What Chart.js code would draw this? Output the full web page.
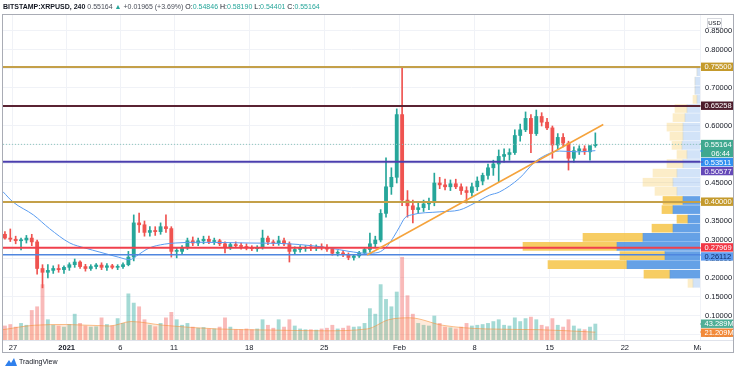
<!DOCTYPE html>
<html>
<head>
<meta charset="utf-8">
<script src="https://cdn.jsdelivr.net/npm/chart.js@4.4.1/dist/chart.umd.min.js"></script>
<style>
  html, body { margin: 0; padding: 0; background: #fff; }
  #wrap { position: relative; width: 736px; height: 368px; overflow: hidden;
          font-family: "Liberation Sans", Arial, sans-serif; }
  #chart { position: absolute; left: 0; top: 0; }
  #title { position: absolute; left: 3px; top: 2px; font-size: 7px; line-height: 9px;
           white-space: nowrap; color: #131722; }
  #title b { font-weight: bold; }
  #title .g { color: #26a69a; }
  #title .d { color: #4a4e59; }
  #footer { position: absolute; left: 5px; top: 357px; font-size: 7px; line-height: 10px;
            color: #131722; white-space: nowrap; }
  #footer svg { vertical-align: middle; margin-right: 2px; }
</style>
</head>
<body>
<div id="wrap">
  <canvas id="chart" width="736" height="368"></canvas>
  <div id="title"><b>BITSTAMP:XRPUSD, 240</b> <span class="d">0.55164</span> <span class="g">&#9650;</span> <span class="d">+0.01965 (+3.69%)</span> O:<span class="g">0.54846</span> H:<span class="g">0.58190</span> L:<span class="g">0.54401</span> C:<span class="g">0.55164</span></div>
  <div id="footer"><svg width="12" height="8" viewBox="0 0 12 8"><path d="M0 8 L4 2 L6 5 L9 0 L12 8 Z" fill="#2f80ed"/></svg>TradingView</div>
</div>
<script>
// XRPUSD 4h chart, aggregated here to 12h candles, Dec 26 2020 -> Feb 19 2021

// ---- time axis (days since Dec 26 2020, 00:00)
const X_MIN = 0.07, X_MAX = 65.0;
const CANDLE_DAYS = 0.5;
const tickDays   = [1, 6, 11, 16, 23, 30, 37, 44, 51, 58, 65];
const tickLabels = ['27', '2021', '6', '11', '18', '25', 'Feb', '8', '15', '22', 'Mar'];

// ---- price axis
const Y_MIN = 0.0368, Y_MAX = 0.8921;
const priceTicks = [0.05, 0.10, 0.15, 0.20, 0.25, 0.30, 0.35, 0.40, 0.45, 0.50,
                    0.55, 0.60, 0.65, 0.70, 0.75, 0.80, 0.85];

// ---- candles (12h)
const opens = [
  0.315, 0.305, 0.302, 0.298, 0.300, 0.305, 0.295, 0.225, 0.215, 0.220,
  0.225, 0.222, 0.228, 0.235, 0.242, 0.230, 0.225, 0.230, 0.234, 0.228,
  0.232, 0.228, 0.230, 0.235, 0.255, 0.345, 0.340, 0.320, 0.325, 0.322,
  0.335, 0.330, 0.270, 0.270, 0.280, 0.298, 0.292, 0.298, 0.302, 0.296,
  0.298, 0.290, 0.282, 0.288, 0.285, 0.283, 0.279, 0.277, 0.280, 0.305,
  0.295, 0.292, 0.298, 0.290, 0.270, 0.275, 0.278, 0.280, 0.279, 0.281,
  0.280, 0.276, 0.265, 0.266, 0.262, 0.254, 0.258, 0.266, 0.275, 0.290,
  0.300, 0.370, 0.440, 0.465, 0.630, 0.405, 0.390, 0.380, 0.385, 0.395,
  0.400, 0.450, 0.445, 0.440, 0.448, 0.440, 0.430, 0.425, 0.440, 0.455,
  0.470, 0.490, 0.500, 0.520, 0.525, 0.530, 0.575, 0.590, 0.620, 0.580,
  0.625, 0.610, 0.595, 0.550, 0.570, 0.555, 0.515, 0.535, 0.540, 0.532,
  0.54846
];
const highs = [
  0.322, 0.329, 0.310, 0.305, 0.312, 0.315, 0.300, 0.235, 0.235, 0.232,
  0.235, 0.232, 0.240, 0.250, 0.245, 0.236, 0.235, 0.238, 0.240, 0.238,
  0.236, 0.235, 0.240, 0.270, 0.366, 0.371, 0.350, 0.335, 0.335, 0.345,
  0.366, 0.335, 0.280, 0.285, 0.305, 0.308, 0.305, 0.310, 0.310, 0.305,
  0.302, 0.295, 0.292, 0.295, 0.292, 0.290, 0.285, 0.285, 0.326, 0.310,
  0.300, 0.310, 0.305, 0.295, 0.282, 0.285, 0.285, 0.288, 0.287, 0.290,
  0.288, 0.280, 0.272, 0.272, 0.266, 0.262, 0.270, 0.280, 0.318, 0.310,
  0.380, 0.516, 0.490, 0.645, 0.755, 0.430, 0.405, 0.400, 0.405, 0.410,
  0.476, 0.465, 0.460, 0.458, 0.460, 0.448, 0.440, 0.450, 0.466, 0.476,
  0.500, 0.510, 0.537, 0.540, 0.540, 0.590, 0.605, 0.637, 0.630, 0.642,
  0.635, 0.620, 0.600, 0.580, 0.580, 0.560, 0.545, 0.548, 0.548, 0.545,
  0.58190
];
const lows = [
  0.302, 0.296, 0.290, 0.274, 0.292, 0.285, 0.210, 0.174, 0.200, 0.212,
  0.215, 0.212, 0.220, 0.228, 0.225, 0.218, 0.220, 0.224, 0.222, 0.220,
  0.224, 0.222, 0.225, 0.232, 0.245, 0.320, 0.310, 0.310, 0.312, 0.315,
  0.320, 0.255, 0.253, 0.262, 0.275, 0.285, 0.285, 0.290, 0.290, 0.288,
  0.285, 0.266, 0.275, 0.280, 0.276, 0.274, 0.272, 0.270, 0.276, 0.288,
  0.285, 0.286, 0.285, 0.242, 0.262, 0.268, 0.270, 0.272, 0.272, 0.274,
  0.270, 0.260, 0.258, 0.256, 0.248, 0.247, 0.254, 0.262, 0.268, 0.280,
  0.295, 0.360, 0.420, 0.450, 0.390, 0.360, 0.345, 0.370, 0.375, 0.380,
  0.390, 0.435, 0.432, 0.430, 0.435, 0.420, 0.397, 0.415, 0.430, 0.445,
  0.460, 0.470, 0.453, 0.505, 0.510, 0.525, 0.560, 0.585, 0.530, 0.575,
  0.600, 0.590, 0.515, 0.540, 0.545, 0.484, 0.505, 0.525, 0.525, 0.510,
  0.54401
];
const closes = [
  0.305, 0.302, 0.298, 0.300, 0.305, 0.295, 0.225, 0.215, 0.220, 0.225,
  0.222, 0.228, 0.235, 0.242, 0.230, 0.225, 0.230, 0.234, 0.228, 0.232,
  0.228, 0.230, 0.235, 0.255, 0.345, 0.340, 0.320, 0.325, 0.322, 0.335,
  0.330, 0.270, 0.270, 0.280, 0.298, 0.292, 0.298, 0.302, 0.296, 0.298,
  0.290, 0.282, 0.288, 0.285, 0.283, 0.279, 0.277, 0.280, 0.305, 0.295,
  0.292, 0.298, 0.290, 0.270, 0.275, 0.278, 0.280, 0.279, 0.281, 0.280,
  0.276, 0.265, 0.266, 0.262, 0.254, 0.258, 0.266, 0.275, 0.290, 0.300,
  0.370, 0.440, 0.465, 0.630, 0.405, 0.390, 0.380, 0.385, 0.395, 0.400,
  0.450, 0.445, 0.440, 0.448, 0.440, 0.430, 0.425, 0.440, 0.455, 0.470,
  0.490, 0.500, 0.520, 0.525, 0.530, 0.575, 0.590, 0.620, 0.580, 0.625,
  0.610, 0.595, 0.550, 0.570, 0.555, 0.515, 0.535, 0.540, 0.532, 0.54846,
  0.55164
];
// volume in millions XRP
const volumes = [
  38, 42, 35, 45, 40, 80, 90, 150, 55, 40,
  38, 35, 42, 70, 45, 38, 35, 36, 60, 42,
  38, 58, 45, 125, 100, 90, 55, 40, 36, 45,
  60, 75, 55, 40, 45, 35, 32, 34, 30, 30,
  35, 60, 35, 28, 28, 30, 28, 30, 55, 40,
  32, 55, 35, 55, 38, 30, 28, 28, 27, 30,
  32, 40, 30, 32, 38, 35, 36, 45, 85, 70,
  150, 110, 90, 130, 224, 120, 70, 45, 40, 38,
  65, 45, 35, 33, 30, 35, 45, 38, 40, 42,
  45, 50, 55, 40, 38, 60, 50, 58, 62, 55,
  40, 36, 58, 40, 35, 55, 38, 30, 28, 35,
  43.289
];

// ---- moving average of price (read at points along the line)
const maDays   = [0.07, 1.0, 2.9, 4.4, 6.3, 7.7, 9.1, 10.8, 11.9, 12.5, 13.7, 15.1, 16.1,
                  18.4, 23.0, 25.8, 27.7, 30.5, 32.3, 34.0, 35.0, 35.9, 36.5, 37.0, 37.5,
                  38.1, 40.7, 42.6, 44.0, 45.4, 46.3, 48.2, 49.6, 51.0, 51.9, 53.7, 55.25];
const maValues = [0.427, 0.400, 0.366, 0.330, 0.292, 0.279, 0.268, 0.255, 0.248, 0.258, 0.279, 0.289, 0.292,
                  0.294, 0.292, 0.291, 0.288, 0.279, 0.270, 0.265, 0.267, 0.285, 0.310, 0.334, 0.358,
                  0.366, 0.374, 0.379, 0.397, 0.418, 0.426, 0.463, 0.505, 0.528, 0.534, 0.532, 0.53511];

// ---- moving average of volume (M)
const volMaDays   = [0.07, 3, 6, 10, 12, 15, 20, 25, 30, 34, 36, 38, 41, 45, 50, 55.25];
const volMaValues = [28, 40, 42, 38, 50, 40, 30, 27, 25, 30, 55, 60, 40, 30, 28, 21.209];

// ---- drawn levels and trend line
const levelPrices = [0.75500, 0.65258, 0.50577, 0.40000, 0.27969, 0.26112];
const trendDays   = [33.99, 55.99];
const trendPrices = [0.2605, 0.6040];
const countdown = '06:44';

// ---- visible range volume profile (24 rows)
const vpPrices  = [0.186, 0.210, 0.235, 0.259, 0.283, 0.307, 0.331, 0.355, 0.380, 0.404, 0.428, 0.452,
                   0.476, 0.501, 0.525, 0.549, 0.573, 0.597, 0.622, 0.646, 0.670, 0.694, 0.718, 0.743];
const vpUpVol   = [7, 30, 73, 35, 83, 57, 27, 12, 27, 17, 23, 27, 23, 17, 13, 18, 17, 17, 15, 13, 3, 5, 5, 3];
const vpDownVol = [5, 26, 79, 45, 94, 60, 21, 11, 11, 20, 22, 30, 24, 16, 10, 10, 13, 16, 12, 12, 4, 0, 0, 0];
const VA_LOW = 0.198, VA_HIGH = 0.416;

// ---------------------------------------------------------------
const UP = '#26a69a', DOWN = '#ef5350';
const levelStyle = [
  { line: '#c4a049', bg: '#c49a2c', fg: '#fff', w: 2 },
  { line: '#5a2333', bg: '#4d1c2b', fg: '#fff', w: 2 },
  { line: '#4b3fae', bg: '#6548b8', fg: '#fff', w: 2 },
  { line: '#c4a049', bg: '#c49a2c', fg: '#fff', w: 2 },
  { line: '#f0404c', bg: '#f23645', fg: '#fff', w: 2 },
  { line: '#4f86df', bg: '#5f9cf0', fg: '#0d2a66', w: 1.5 }
];

const candleDay = i => i * CANDLE_DAYS + CANDLE_DAYS / 2;
const isUp = i => closes[i] >= opens[i];
const inValueArea = p => p >= VA_LOW && p <= VA_HIGH;
const lastClose = closes[closes.length - 1];

Chart.defaults.font.family = '"Liberation Sans", Arial, sans-serif';
Chart.defaults.color = '#131722';

const datasets = [];

// trend line
datasets.push({
  type: 'line', order: 1,
  data: trendDays.map((d, i) => ({ x: d, y: trendPrices[i] })),
  borderColor: '#f5a33c', borderWidth: 1.5, pointRadius: 0
});
// horizontal levels
levelPrices.forEach((p, i) => datasets.push({
  type: 'line', order: 2,
  data: [{ x: X_MIN, y: p }, { x: X_MAX, y: p }],
  borderColor: levelStyle[i].line, borderWidth: levelStyle[i].w, pointRadius: 0
}));
// current price dotted line
datasets.push({
  type: 'line', order: 2,
  data: [{ x: X_MIN, y: lastClose }, { x: X_MAX, y: lastClose }],
  borderColor: '#8fc7bd', borderWidth: 1, borderDash: [1, 2], pointRadius: 0
});
// price MA
datasets.push({
  type: 'line', order: 3,
  data: maDays.map((d, i) => ({ x: d, y: maValues[i] })),
  borderColor: '#5a9cf0', borderWidth: 1, pointRadius: 0, cubicInterpolationMode: 'monotone'
});
// candle bodies and wicks
datasets.push({
  type: 'bar', order: 4, grouped: false,
  data: opens.map((o, i) => ({ x: candleDay(i), y: [o, closes[i]] })),
  backgroundColor: c => isUp(c.dataIndex) ? UP : DOWN,
  barThickness: 3.2, minBarLength: 1, borderWidth: 0
});
datasets.push({
  type: 'bar', order: 5, grouped: false,
  data: lows.map((l, i) => ({ x: candleDay(i), y: [l, highs[i]] })),
  backgroundColor: c => isUp(c.dataIndex) ? UP : DOWN,
  barThickness: 1, borderWidth: 0
});
// volume MA area and volume bars
datasets.push({
  type: 'line', order: 6, yAxisID: 'y2',
  data: volMaDays.map((d, i) => ({ x: d, y: volMaValues[i] })),
  borderColor: 'rgba(245,140,50,0.55)', borderWidth: 1,
  backgroundColor: 'rgba(250,160,90,0.22)', fill: 'origin',
  pointRadius: 0, cubicInterpolationMode: 'monotone'
});
datasets.push({
  type: 'bar', order: 7, grouped: false, yAxisID: 'y2',
  data: volumes.map((v, i) => ({ x: candleDay(i), y: v })),
  backgroundColor: c => isUp(c.dataIndex) ? 'rgba(38,166,154,0.42)' : 'rgba(239,83,80,0.4)',
  barThickness: 3.2, borderWidth: 0
});
// volume profile: up (blue, nearest the axis) then down (yellow)
datasets.push({
  type: 'bar', order: 8, indexAxis: 'y', xAxisID: 'xvp', grouped: false,
  data: vpPrices.map((p, i) => ({ x: vpUpVol[i], y: p })),
  backgroundColor: c => inValueArea(vpPrices[c.dataIndex]) ? 'rgba(74,144,226,0.85)' : 'rgba(74,144,226,0.25)',
  barThickness: 8, borderWidth: 0
});
datasets.push({
  type: 'bar', order: 9, indexAxis: 'y', xAxisID: 'xvp', grouped: false,
  data: vpPrices.map((p, i) => ({ x: vpDownVol[i], y: p })),
  backgroundColor: c => inValueArea(vpPrices[c.dataIndex]) ? 'rgba(246,196,72,0.85)' : 'rgba(246,196,72,0.3)',
  barThickness: 8, borderWidth: 0
});

// price tags on the right axis, frame, etc.
const overlay = {
  id: 'overlay',
  afterDraw(chart) {
    const { ctx, chartArea: a, scales: { y, y2 } } = chart;
    ctx.save();
    // clip time labels that run under the price axis
    ctx.fillStyle = '#fff';
    ctx.fillRect(a.right + 1, a.bottom + 1, 40, 11);
    // separators and frame
    ctx.strokeStyle = '#e0e3eb'; ctx.lineWidth = 1;
    ctx.beginPath(); ctx.moveTo(a.left, a.bottom + 0.5); ctx.lineTo(733, a.bottom + 0.5); ctx.stroke();
    ctx.strokeStyle = '#a9acb5';
    ctx.strokeRect(2.5, 14.5, 731, 338);
    // USD unit box
    ctx.strokeStyle = '#d6d8de';
    ctx.strokeRect(707.5, 18.5, 14, 9);
    ctx.fillStyle = '#131722'; ctx.font = '6px "Liberation Sans", Arial';
    ctx.textAlign = 'center'; ctx.textBaseline = 'middle';
    ctx.fillText('USD', 714.5, 23.5);

    // tags
    const tags = [];
    levelPrices.forEach((p, i) => tags.push({ yt: y.getPixelForValue(p), lines: [p.toFixed(5)], bg: levelStyle[i].bg, fg: levelStyle[i].fg }));
    tags.push({ yt: y.getPixelForValue(lastClose), lines: [lastClose.toFixed(5), countdown], bg: '#3fa88f', fg: '#fff' });
    tags.push({ yt: y.getPixelForValue(maValues[maValues.length - 1]), lines: [maValues[maValues.length - 1].toFixed(5)], bg: '#2f8ff0', fg: '#fff' });
    tags.push({ yt: y2.getPixelForValue(volumes[volumes.length - 1]), lines: [volumes[volumes.length - 1].toFixed(3) + 'M'], bg: '#4fae96', fg: '#fff' });
    tags.push({ yt: y2.getPixelForValue(volMaValues[volMaValues.length - 1]), lines: [volMaValues[volMaValues.length - 1].toFixed(3) + 'M'], bg: '#f28a3a', fg: '#fff' });
    tags.sort((p, q) => p.yt - q.yt);
    const H = 9;
    let prevBottom = -Infinity;
    ctx.font = '7.5px "Liberation Sans", Arial';
    tags.forEach(t => {
      const top = Math.max(t.yt - H / 2, prevBottom);
      const h = H * t.lines.length;
      prevBottom = top + h;
      ctx.fillStyle = t.bg;
      ctx.fillRect(a.right, Math.round(t.yt) - 0.5, 3, 1);
      ctx.fillRect(a.right + 1, top, 32, h - 0.6);
      ctx.fillStyle = t.fg;
      t.lines.forEach((s, k) => {
        ctx.textAlign = k === 0 ? 'left' : 'right';
        ctx.fillText(s, k === 0 ? a.right + 4.5 : 730, top + H * k + H / 2 + 0.3);
      });
    });
    ctx.restore();
  }
};

new Chart(document.getElementById('chart'), {
  type: 'bar',
  data: { datasets },
  options: {
    responsive: false, animation: false, events: [],
    layout: { padding: { left: 3, right: 3, top: 15, bottom: 16 } },
    plugins: { legend: { display: false }, tooltip: { enabled: false } },
    scales: {
      x: {
        type: 'linear', min: X_MIN, max: X_MAX, offset: false,
        grid: { color: '#f0f2f7', drawTicks: false, offset: false },
        border: { display: false },
        afterBuildTicks: s => { s.ticks = tickDays.map(v => ({ value: v })); },
        afterFit: s => { s.height = 12; s.paddingLeft = 0; s.paddingRight = 0; },
        ticks: {
          autoSkip: false, maxRotation: 0, padding: 3, color: '#131722',
          font: c => ({ size: 7.5, weight: (c.tick && tickLabels[tickDays.indexOf(c.tick.value)] === '2021') ? 'bold' : 'normal' }),
          callback: v => tickLabels[tickDays.indexOf(v)]
        }
      },
      y: {
        type: 'linear', position: 'right', min: Y_MIN, max: Y_MAX, beginAtZero: false, offset: false,
        grid: { color: '#f0f2f7', drawTicks: false, offset: false },
        border: { display: false },
        afterBuildTicks: s => { s.ticks = priceTicks.map(v => ({ value: v })); },
        afterFit: s => { s.width = 33; s.paddingTop = 0; s.paddingBottom = 0; },
        ticks: { padding: 5, color: '#131722', font: { size: 7.5 }, callback: v => v.toFixed(5) }
      },
      y2: { type: 'linear', display: false, min: 0, max: 880, offset: false },
      xvp: { type: 'linear', axis: 'x', display: false, reverse: true, min: 0, max: 697, stacked: true,
             offset: false, grid: { offset: false } }
    }
  },
  plugins: [overlay]
});
</script>
</body>
</html>
